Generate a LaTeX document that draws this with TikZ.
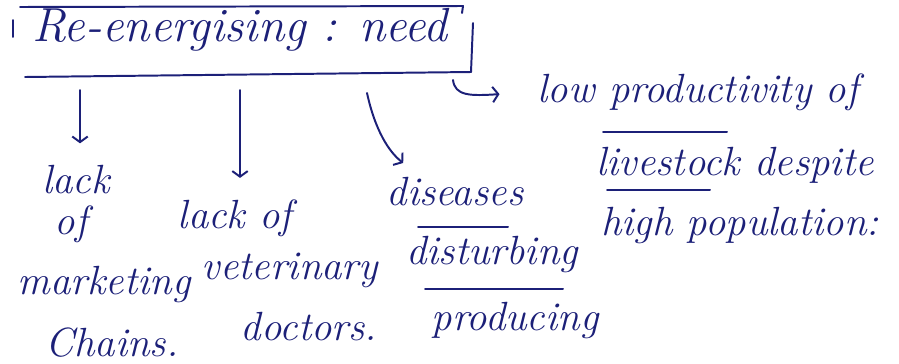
\documentclass[tikz,border=0pt]{standalone}
\usetikzlibrary{arrows.meta}

\definecolor{ink}{RGB}{28,32,120}

\tikzset{
    pen/.style={ink, line width=1.4pt, line cap=round, line join=round},
    pen arrow/.style={pen, -{Straight Barb[length=4pt,width=11pt]}, shorten >=14pt},
    note/.style={text=ink, font=\fontsize{#1}{#1}\selectfont\itshape, inner sep=1pt, anchor=base},
    note/.default=29,
}

\begin{document}
\begin{tikzpicture}[x=0.025cm, y=-0.025cm]

    \useasboundingbox (0,0) rectangle (899,363);

    % Draw heading and its box
    \node (title) at (240,41) [note=34] {Re-energising : need};
    \draw[pen] (20,7) -- (463,6) -- (462,13);
    \draw[pen] (13,20) -- (13,37);
    \draw[pen] (473,23) -- (471,72);
    \draw[pen] (25,77) -- (471,72);

    % Start points under the box
    \coordinate (a1) at (80,90);
    \coordinate (a2) at (240,90);
    \coordinate (a3) at (367,93);
    \coordinate (hk) at (453,80);

    % Draw first column
    \node (lack) at (76,193) [note] {lack};
    \node (of) at (71,234) [note] {of};
    \node (marketing) at (104,294) [note] {marketing};
    \node (chains) at (112,356) [note] {Chains.};

    % Draw second column
    \node (lackof) at (235,228) [note] {lack of};
    \node (veterinary) at (290,279) [note] {veterinary};
    \node (doctors) at (309,340) [note] {doctors.};

    % Draw third column
    \node (diseases) at (455,205) [note] {diseases};
    \node (disturbing) at (492,264) [note] {disturbing};
    \node (producing) at (515,330) [note] {producing};
    \draw[pen] (418,227) -- (508,227);
    \draw[pen] (425,289) -- (563,289);

    % Draw fourth column
    \node (low) at (698,102) [note] {low productivity of};
    \node (livestock) at (735,175) [note] {livestock despite};
    \node (high) at (740,235) [note] {high population:};
    \draw[pen] (603,132) -- (727,132);
    \draw[pen] (607,190) -- (710,190);

    % Draw arrows
    \draw[pen arrow] (a1) -- (a1 |- lack.north);
    \draw[pen arrow] (a2) -- (a2 |- lackof.north);
    \draw[pen arrow] (a3) to [bend right=20] ([xshift=24pt]diseases.north west);
    \draw[pen arrow, shorten >=26pt] (hk) .. controls (455,96) and (470,96) .. (low.west);

\end{tikzpicture}
\end{document}
